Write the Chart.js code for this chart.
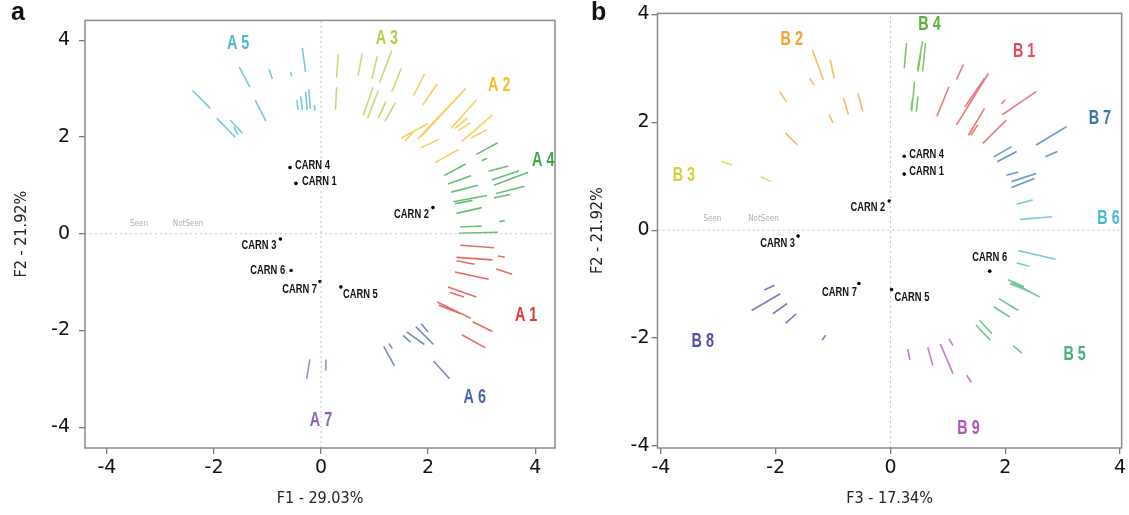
<!DOCTYPE html>
<html>
<head>
<meta charset="utf-8">
<script src="https://cdn.jsdelivr.net/npm/chart.js@4"></script>
<style>
  html, body { margin: 0; padding: 0; background: #fff; }
  #wrap { position: relative; width: 1129px; height: 515px; overflow: hidden; }
  .panel { position: absolute; top: 0; height: 515px; }
  #pa { left: 0; width: 565px; }
  #pb { left: 565px; width: 564px; }
  .tag { position: absolute; top: -3px; font: bold 25px "Liberation Sans", Arial, sans-serif; color: #111; }
</style>
</head>
<body>
<div id="wrap">
  <div class="panel" id="pa"><canvas id="chartA"></canvas></div>
  <div class="panel" id="pb"><canvas id="chartB"></canvas></div>
  <div class="tag" style="left:11px">a</div>
  <div class="tag" style="left:591px">b</div>
</div>
<script>
/* ===== Correspondence map: panels a (F1/F2) and b (F3/F2) ===== */

const xTicks = [-4, -2, 0, 2, 4];
const yTicks = [-4, -2, 0, 2, 4];

// individuals
const carnNames = ['CARN 1', 'CARN 2', 'CARN 3', 'CARN 4', 'CARN 5', 'CARN 6', 'CARN 7'];
const carnF1 = [-0.47, 2.09, -0.76, -0.58, 0.37, -0.56, -0.02];
const carnF2 = [1.04, 0.54, -0.11, 1.37, -1.10, -0.76, -0.99];
const carnF3 = [0.24, -0.02, -1.61, 0.24, 0.02, 1.73, -0.55];

// variable group labels
const labelsA = ['A 1', 'A 2', 'A 3', 'A 4', 'A 5', 'A 6', 'A 7'];
const labelAx = [3.83, 3.33, 1.23, 4.15, -1.55, 2.87, 0.00];
const labelAy = [-1.70, 3.06, 4.03, 1.52, 3.93, -3.38, -3.86];

const labelsB = ['B 1', 'B 2', 'B 3', 'B 4', 'B 5', 'B 6', 'B 7', 'B 8', 'B 9'];
const labelBx = [2.33, -1.72, -3.60, 0.68, 3.21, 3.80, 3.65, -3.27, 1.36];
const labelBy = [3.31, 3.53, 1.02, 3.81, -2.30, 0.22, 2.07, -2.07, -3.68];

// modality segments [x1, y1, x2, y2] (Seen -> NotSeen)
const segA1 = [[3.23,-0.29,2.60,-0.24],[3.43,-0.48,3.30,-0.46],[3.20,-0.54,2.53,-0.49],[2.87,-0.63,2.53,-0.56],
  [3.57,-0.84,3.27,-0.73],[3.13,-0.94,2.50,-0.79],[2.90,-1.31,2.37,-1.10],[2.67,-1.31,2.40,-1.21],
  [2.80,-1.75,2.17,-1.41],[2.60,-1.65,2.20,-1.48],[3.20,-2.02,2.83,-1.82],[3.07,-2.36,2.63,-2.09]];
const segA2 = [[1.93,3.30,1.73,2.86],[2.17,3.10,1.90,2.66],[2.70,3.00,1.87,2.01],[2.63,2.92,1.80,1.95],
  [2.90,2.76,2.43,2.18],[3.20,2.45,2.63,1.91],[2.73,2.39,2.50,2.18],[2.79,2.29,2.56,2.13],
  [2.00,2.28,1.50,1.98],[1.73,2.12,1.57,1.91],[2.20,1.95,1.87,1.78],[2.57,1.74,2.13,1.47],[3.10,2.15,2.80,1.98]];
const segA3 = [[0.32,3.71,0.29,3.23],[0.29,3.03,0.27,2.56],[0.77,3.73,0.69,3.27],[1.05,3.67,0.95,3.20],
  [1.32,3.78,1.09,3.12],[1.50,3.42,1.32,2.93],[0.97,3.03,0.79,2.45],[1.07,2.96,0.87,2.39],
  [1.21,2.73,1.07,2.39],[1.39,2.71,1.19,2.32]];
const segA4 = [[3.30,1.88,2.90,1.64],[2.70,1.44,2.30,1.20],[3.10,1.56,3.00,1.51],[3.50,1.40,3.13,1.29],
  [3.87,1.27,3.23,1.00],[3.70,1.30,3.19,1.11],[2.80,1.20,2.37,1.03],[3.80,0.98,3.27,0.83],
  [3.53,0.81,3.23,0.74],[2.93,1.00,2.43,0.86],[3.10,0.79,2.47,0.66],[2.83,0.69,2.50,0.62],
  [3.00,0.54,2.53,0.42],[3.00,0.16,2.60,0.14],[3.30,0.03,2.57,0.01],[3.43,0.27,3.33,0.25]];
const segA5 = [[-2.40,2.96,-2.07,2.59],[-1.95,2.39,-1.60,1.99],[-1.70,2.35,-1.47,2.08],[-1.63,2.21,-1.55,2.05],
  [-1.53,3.45,-1.33,3.03],[-1.23,2.76,-1.03,2.33],[-0.97,3.40,-0.91,3.20],[-0.57,3.34,-0.55,3.25],
  [-0.35,3.84,-0.29,3.34],[-0.45,2.76,-0.43,2.56],[-0.38,2.85,-0.35,2.56],[-0.29,2.94,-0.26,2.56],
  [-0.23,2.99,-0.20,2.58],[-0.13,2.66,-0.11,2.54]];
const segA6 = [[2.40,-3.00,2.10,-2.63],[2.10,-2.29,1.77,-1.92],[2.00,-2.03,1.87,-1.86],[1.93,-2.29,1.60,-2.03],
  [1.67,-2.24,1.53,-2.10],[1.37,-2.73,1.17,-2.33],[1.33,-2.37,1.27,-2.27]];
const segA7 = [[-0.21,-2.60,-0.27,-3.00],[0.09,-2.60,0.09,-2.83]];

const segB1 = [[1.27,3.07,1.15,2.79],[1.02,2.66,0.81,2.11],[1.71,2.91,1.15,1.95],[1.64,2.82,1.30,2.29],
  [1.64,2.26,1.36,1.76],[1.52,1.95,1.40,1.76],[2.54,2.57,1.95,2.14],[2.02,2.04,1.61,1.61],[2.00,2.42,1.93,2.34]];
const segB2 = [[-1.36,3.34,-1.17,2.79],[-1.05,3.16,-0.98,2.82],[-1.41,2.82,-1.33,2.69],[-1.93,2.57,-1.81,2.38],
  [-0.82,2.45,-0.73,2.14],[-0.57,2.54,-0.48,2.20],[-1.07,2.14,-1.00,1.99],[-1.83,1.80,-1.62,1.58]];
const segB3 = [[-2.95,1.28,-2.76,1.21],[-2.26,0.99,-2.08,0.90]];
const segB4 = [[0.28,3.47,0.24,3.00],[0.56,3.50,0.47,2.97],[0.61,3.47,0.56,2.94],[0.53,3.28,0.48,2.94],
  [0.42,2.76,0.37,2.20],[0.48,2.48,0.45,2.20],[0.38,2.41,0.36,2.23]];
const segB5 = [[2.60,-1.24,2.11,-0.96],[2.45,-1.15,2.08,-0.99],[2.33,-1.05,2.05,-0.92],[2.23,-1.49,1.89,-1.27],
  [2.08,-1.61,1.80,-1.42],[1.77,-1.92,1.55,-1.67],[1.74,-2.04,1.49,-1.76],[2.29,-2.28,2.14,-2.14]];
const segB6 = [[2.48,0.56,2.20,0.48],[2.82,0.25,2.26,0.20],[2.88,-0.54,2.23,-0.38],[2.42,-0.67,2.20,-0.61]];
const segB7 = [[3.07,1.92,2.54,1.58],[2.91,1.46,2.70,1.36],[2.11,1.55,1.80,1.36],[2.20,1.46,1.86,1.27],
  [2.23,1.08,2.02,1.02],[2.54,1.05,2.11,0.90],[2.51,0.96,2.11,0.79]];
const segB8 = [[-2.02,-1.02,-2.20,-1.11],[-1.92,-1.18,-2.42,-1.49],[-1.80,-1.36,-2.05,-1.55],
  [-1.64,-1.55,-1.83,-1.73],[-1.13,-1.95,-1.19,-2.04]];
const segB9 = [[0.30,-2.20,0.34,-2.41],[0.65,-2.17,0.74,-2.51],[0.87,-2.11,1.09,-2.66],
  [1.02,-2.01,1.09,-2.14],[1.33,-2.69,1.41,-2.82]];

/* ---------- styling ---------- */
const SANS = '"Liberation Sans", Arial, sans-serif';
const NARROW = '"Liberation Sans Narrow", "DejaVu Sans Condensed", sans-serif';
const colA = ['#e2382e', '#f2bf2a', '#bccb48', '#3aa64a', '#4fb6d2', '#4a66a8', '#8a62b8'];
const colB = ['#e0505c', '#f0a432', '#d2d23a', '#5cb03c', '#44b07a', '#48bccc', '#3a74b0', '#5450a6', '#b054b8'];

// label offsets in px: [dx, dy, align]
const carnPosA = [[6,-2,'left'],[-4,7,'right'],[-4,7,'right'],[5,-2,'left'],[2,8,'left'],[-6,0,'right'],[-3,8,'right']];
const carnPosB = [[5,-2,'left'],[-4,7,'right'],[-3,8,'right'],[5,-2,'left'],[3,8,'left'],[0,-13,'center'],[-2,9,'right']];

function segData(segs) {
  const out = [];
  segs.forEach(s => { out.push({x: s[0], y: s[1]}, {x: s[2], y: s[3]}, {x: s[2], y: null}); });
  return out;
}

function alpha(hex, a) {
  const n = parseInt(hex.slice(1), 16);
  return `rgba(${n >> 16},${(n >> 8) & 255},${n & 255},${a})`;
}

// text squeezed horizontally, like the condensed face of the original
function narrowText(ctx, txt, x, y, align, sx) {
  ctx.save();
  ctx.translate(x, y);
  ctx.scale(sx, 1);
  ctx.textAlign = align;
  ctx.fillText(txt, 0, 0);
  ctx.restore();
}

const framePlugin = {
  id: 'frame',
  afterDraw(chart) {
    const {ctx, chartArea: a} = chart;
    ctx.save();
    ctx.strokeStyle = '#8a8a8a';
    ctx.lineWidth = 1.5;
    ctx.strokeRect(a.left, a.top, a.width, a.height);
    ctx.restore();
  }
};

const textPlugin = {
  id: 'mapText',
  afterDatasetsDraw(chart, args, opts) {
    const {ctx} = chart;
    const xs = chart.scales.x, ys = chart.scales.y;
    ctx.save();
    ctx.textBaseline = 'middle';
    // group labels
    ctx.font = `bold 20px ${SANS}`;
    opts.groups.forEach((g, i) => {
      ctx.fillStyle = opts.groupColors[i];
      narrowText(ctx, g, xs.getPixelForValue(opts.gx[i]), ys.getPixelForValue(opts.gy[i]), 'center', 0.72);
    });
    // individuals
    ctx.font = `bold 12px ${SANS}`;
    ctx.fillStyle = '#111';
    carnNames.forEach((n, i) => {
      const p = opts.pos[i];
      narrowText(ctx, n, xs.getPixelForValue(opts.px[i]) + p[0], ys.getPixelForValue(opts.py[i]) + p[1], p[2], 0.78);
    });
    // Seen / NotSeen legend
    ctx.font = `8px ${NARROW}`;
    ctx.fillStyle = '#b0b0b0';
    ctx.textAlign = 'left';
    ctx.fillText('Seen', xs.getPixelForValue(opts.legendX[0]), ys.getPixelForValue(0.2));
    ctx.fillText('NotSeen', xs.getPixelForValue(opts.legendX[1]), ys.getPixelForValue(0.2));
    ctx.restore();
  }
};

function buildChart(id, cfg) {
  const datasets = [
    {data: [{x: cfg.xMin, y: 0}, {x: cfg.xMax, y: 0}], borderColor: '#c4c4c4', borderDash: [2, 3], borderWidth: 1},
    {data: [{x: 0, y: cfg.yMin}, {x: 0, y: cfg.yMax}], borderColor: '#c4c4c4', borderDash: [2, 3], borderWidth: 1}
  ];
  cfg.segs.forEach((s, i) => {
    datasets.push({data: segData(s), borderColor: alpha(cfg.segColors[i], 0.75), borderWidth: 1.6});
  });
  datasets.push({
    data: cfg.px.map((x, i) => ({x, y: cfg.py[i]})),
    showLine: false, pointRadius: 1.8, backgroundColor: '#000', borderWidth: 0
  });

  return new Chart(document.getElementById(id), {
    type: 'scatter',
    data: {datasets: datasets.map(d => Object.assign({showLine: true, pointRadius: 0, fill: false, spanGaps: false}, d))},
    plugins: [framePlugin, textPlugin],
    options: {
      responsive: true, maintainAspectRatio: false, animation: false, events: [],
      layout: {padding: {top: cfg.padTop, right: cfg.padRight, left: 0, bottom: 0}},
      plugins: {
        legend: {display: false}, tooltip: {enabled: false},
        mapText: {groups: cfg.groups, groupColors: cfg.groupColors, gx: cfg.gx, gy: cfg.gy,
                  px: cfg.px, py: cfg.py, pos: cfg.pos, legendX: cfg.legendX}
      },
      scales: {
        x: {
          type: 'linear', min: cfg.xMin, max: cfg.xMax,
          afterBuildTicks: s => { s.ticks = xTicks.map(v => ({value: v})); },
          afterFit: s => { s.height = 67; },
          grid: {drawOnChartArea: false, tickLength: 6, color: '#777', lineWidth: 1.3},
          border: {display: false},
          ticks: {font: {family: 'DejaVu Sans', size: 19}, color: '#111', padding: 3, maxRotation: 0, autoSkip: false},
          title: {display: true, text: cfg.xTitle, color: '#222', font: {family: NARROW, size: 16}, padding: {top: 0, bottom: 7}}
        },
        y: {
          type: 'linear', min: cfg.yMin, max: cfg.yMax,
          afterBuildTicks: s => { s.ticks = yTicks.map(v => ({value: v})); },
          afterFit: s => { s.width = cfg.yWidth; },
          grid: {drawOnChartArea: false, tickLength: 6, color: '#777', lineWidth: 1.3},
          border: {display: false},
          ticks: {font: {family: 'DejaVu Sans', size: 19}, color: '#111', padding: cfg.yPad, autoSkip: false},
          title: {display: true, text: 'F2 - 21.92%', color: '#222', font: {family: NARROW, size: 16}, padding: {top: cfg.yTitlePad, bottom: 0}}
        }
      }
    }
  });
}

buildChart('chartA', {
  xMin: -4.41, xMax: 4.37, yMin: -4.43, yMax: 4.41,
  padTop: 14, padRight: 10, yWidth: 85, yPad: 9, yTitlePad: 12,
  xTitle: 'F1 - 29.03%',
  segs: [segA1, segA2, segA3, segA4, segA5, segA6, segA7], segColors: colA,
  groups: labelsA, groupColors: colA, gx: labelAx, gy: labelAy,
  px: carnF1, py: carnF2, pos: carnPosA, legendX: [-3.57, -2.77]
});

buildChart('chartB', {
  xMin: -4.06, xMax: 4.03, yMin: -4.04, yMax: 4.02,
  padTop: 13, padRight: 6, yWidth: 92.5, yPad: 2, yTitlePad: 23,
  xTitle: 'F3 - 17.34%',
  segs: [segB1, segB2, segB3, segB4, segB5, segB6, segB7, segB8, segB9], segColors: colB,
  groups: labelsB, groupColors: colB, gx: labelBx, gy: labelBy,
  px: carnF3, py: carnF2, pos: carnPosB, legendX: [-3.26, -2.48]
});
</script>
</body>
</html>
